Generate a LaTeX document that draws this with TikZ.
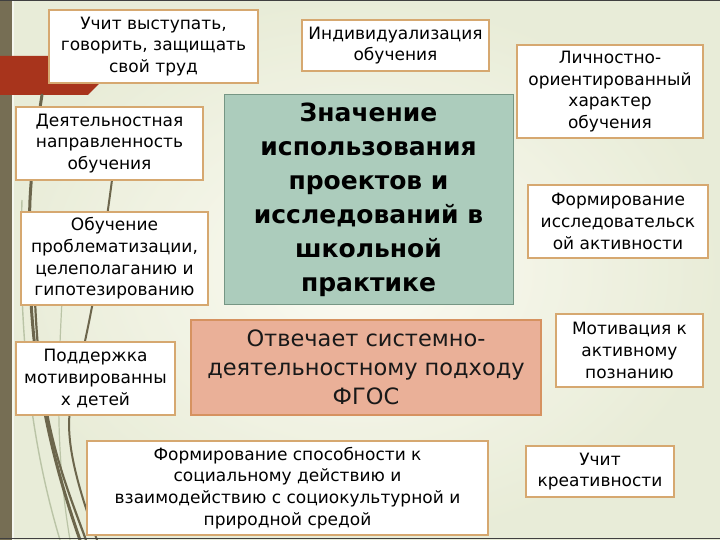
\documentclass[tikz,border=0pt]{standalone}
\usepackage{fontspec}
\setmainfont{DejaVu Sans}
\definecolor{bgin}{RGB}{252,251,243}
\definecolor{bgout}{RGB}{220,227,198}
\definecolor{olive}{RGB}{118,110,84}
\definecolor{stem}{RGB}{108,102,76}
\definecolor{stemlight}{RGB}{186,196,166}
\definecolor{rust}{RGB}{168,52,28}
\definecolor{boxline}{RGB}{214,168,112}
\definecolor{tealfill}{RGB}{172,204,188}
\definecolor{tealline}{RGB}{118,150,132}
\definecolor{salfill}{RGB}{234,176,152}
\definecolor{salline}{RGB}{214,146,96}
\tikzset{
  wbox/.style={draw=boxline, line width=1.4pt, fill=white, align=center, inner sep=0pt,
    font=\fontsize{17}{21.7}\selectfont, text=black},
  titlebox/.style={draw=tealline, line width=1pt, fill=tealfill, align=center, inner sep=0pt,
    font=\fontsize{25}{34}\selectfont\bfseries, text=black},
  salbox/.style={draw=salline, line width=1.4pt, fill=salfill, align=center, inner sep=0pt,
    font=\fontsize{22.5}{29}\selectfont, text=black!90},
  stemline/.style={draw=stem, line cap=round},
}
\begin{document}
\begin{tikzpicture}[x=1pt,y=-1pt]
\useasboundingbox (0,0) rectangle (720,540);
% background
\shade[inner color=bgin, outer color=bgout] (0,0) rectangle (720,540);
\fill[bgin, opacity=0.4] (0,0) rectangle (720,540);
% left bar
\fill[olive] (0,0) rectangle (12,540);
\fill[white, opacity=0.6] (12,0) rectangle (14,540);
% rust band
\fill[rust] (0,56) -- (120,56) -- (100,83) -- (88,95) -- (0,95) -- cycle;
% stems
\draw[stemlight, line width=1.4pt] (60,540) .. controls (30,440) and (18,330) .. (22,200);
\draw[stemlight, line width=1.2pt] (70,540) .. controls (55,450) and (58,380) .. (62,300);
\draw[stemline, line width=3pt] (80,540) .. controls (45,440) and (25,340) .. (30,200) .. controls (32,160) and (38,120) .. (42,95);
\draw[stemline, line width=2.2pt] (86,540) .. controls (60,470) and (40,420) .. (35,300);
\draw[stemline, line width=2pt] (97,540) .. controls (75,480) and (66,440) .. (70,410) .. controls (80,360) and (95,310) .. (112,180);
% frame
\draw[black!75, line width=1.2pt] (0,0.5) -- (720,0.5);
\draw[black!75, line width=1.5pt] (0,538.5) -- (720,538.5);
% boxes
\node[wbox, minimum width=209pt, minimum height=73pt] (b1) at (153.5,46.5)
  {Учит выступать,\\говорить, защищать\\свой труд};
\node[wbox, minimum width=187pt, minimum height=51pt] (b2) at (395.5,45.5)
  {Индивидуализация\\обучения};
\node[wbox, minimum width=187pt, minimum height=73pt] (b3) at (109.5,143.5)
  {Деятельностная\\направленность\\обучения};
\node[wbox, minimum width=187pt, minimum height=93pt] (b4) at (114.5,258.5)
  {Обучение\\проблематизации,\\целеполаганию и\\гипотезированию};
\node[titlebox, minimum width=289pt, minimum height=209pt] (c) at (368.5,199.5)
  {Значение\\использования\\проектов и\\исследований в\\школьной\\практике};
\node[wbox, minimum width=186pt, minimum height=93pt] (b5) at (610,91.5)
  {Личностно-\\ориентированный\\характер\\обучения};
\node[wbox, minimum width=180pt, minimum height=73pt] (b6) at (618,221.5)
  {Формирование\\исследовательск\\ой активности};
\node[wbox, minimum width=159pt, minimum height=73pt] (b7) at (95.5,378.5)
  {Поддержка\\мотивированны\\х детей};
\node[salbox, minimum width=350pt, minimum height=95pt] (s) at (366,367.5)
  {Отвечает системно-\\деятельностному подходу\\ФГОС};
\node[wbox, minimum width=147pt, minimum height=73pt] (b8) at (629.5,350.5)
  {Мотивация к\\активному\\познанию};
\node[wbox, minimum width=401pt, minimum height=94pt] (b9) at (287.5,488)
  {Формирование способности к\\социальному действию и\\взаимодействию с социокультурной и\\природной средой};
\node[wbox, minimum width=148pt, minimum height=51pt] (b10) at (600,471.5)
  {Учит\\креативности};
\end{tikzpicture}
\end{document}
